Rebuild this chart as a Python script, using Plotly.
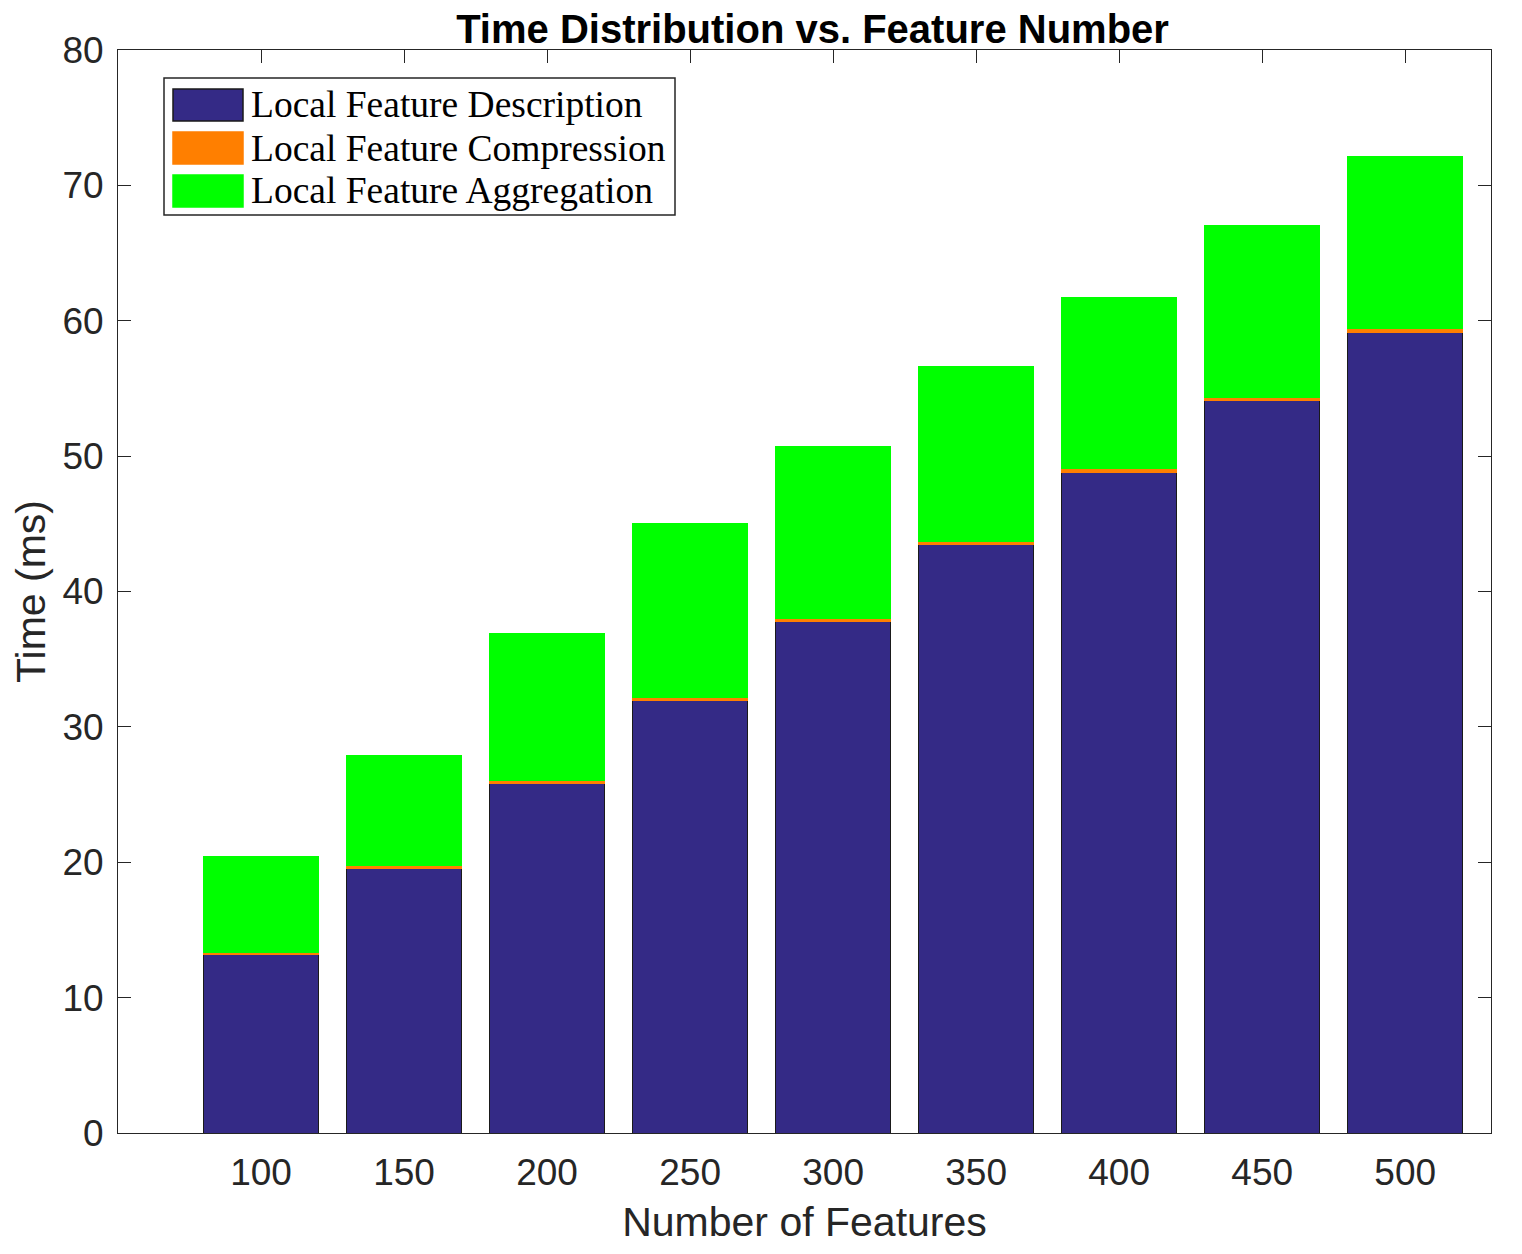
import plotly.graph_objects as go

features = [100, 150, 200, 250, 300, 350, 400, 450, 500]
description = [13.15, 19.55, 25.85, 31.95, 37.8, 43.5, 48.8, 54.1, 59.15]
compression = [0.15, 0.18, 0.2, 0.2, 0.22, 0.22, 0.25, 0.25, 0.28]
totals = [20.45, 27.9, 36.9, 45.0, 50.7, 56.6, 61.75, 67.05, 72.1]
aggregation = [t - d - c for t, d, c in zip(totals, description, compression)]

series_names = ["Local Feature Description", "Local Feature Compression", "Local Feature Aggregation"]
series_colors = ["#342A86", "#FF7F00", "#00FF00"]
series_values = [description, compression, aggregation]

fig = go.Figure()
for name, color, vals in zip(series_names, series_colors, series_values):
    fig.add_trace(go.Bar(
        x=features, y=vals, name=name, width=40,
        marker=dict(color=color, line=dict(color="#1a1a1a" if color == "#342A86" else color, width=1)),
        showlegend=False,
    ))

tick_font = dict(family="Liberation Sans, Arial", size=37, color="#262626")
title_font = dict(family="Liberation Sans, Arial", size=41, color="#262626")
fig.update_layout(
    barmode="stack",
    width=1522, height=1254,
    margin=dict(l=110, r=39, t=42, b=129),
    paper_bgcolor="white", plot_bgcolor="white",
    title=dict(text="<b>Time Distribution vs. Feature Number</b>", x=0.5286, xanchor="center",
               y=0.983, yanchor="middle",
               font=dict(family="Liberation Sans, Arial", size=40, color="black")),
    xaxis=dict(range=[50, 530], tickvals=features, ticks="inside", ticklen=13, tickcolor="#262626",
               showline=True, linecolor="#262626", linewidth=1, mirror="ticks", showgrid=False,
               zeroline=False, tickfont=tick_font, layer="below traces", ticklabelstandoff=7,
               title=dict(text="Number of Features", font=title_font, standoff=14)),
    yaxis=dict(range=[0, 80], tickvals=list(range(0, 81, 10)), ticks="inside", ticklen=13,
               tickcolor="#262626", showline=True, linecolor="#262626", linewidth=1, mirror="ticks",
               showgrid=False, zeroline=False, tickfont=tick_font, layer="below traces",
               ticklabelstandoff=6,
               title=dict(text="Time (ms)", font=title_font, standoff=8)),
)

# Legend drawn as a box with swatches (paper coordinates of the plot area)
W, H = 1373.0, 1083.0
def px(xp):
    return (xp - 118) / W
def py(yp):
    return (1133 - yp) / H

fig.add_shape(type="rect", xref="paper", yref="paper", x0=px(164), x1=px(675), y0=py(215), y1=py(78),
              line=dict(color="#262626", width=1.5), fillcolor="white", layer="above")
row_centers = [105, 148, 191]
for name, color, yc in zip(series_names, series_colors, row_centers):
    fig.add_shape(type="rect", xref="paper", yref="paper", x0=px(173), x1=px(243),
                  y0=py(yc + 16), y1=py(yc - 16),
                  line=dict(color="#1a1a1a" if color == "#342A86" else color, width=1.5),
                  fillcolor=color, layer="above")
    fig.add_annotation(xref="paper", yref="paper", x=px(249), y=py(yc), text=name, showarrow=False,
                       xanchor="left", yanchor="middle",
                       font=dict(family="Liberation Serif, Times New Roman", size=37.5, color="black"))

fig.write_html("out.html")
